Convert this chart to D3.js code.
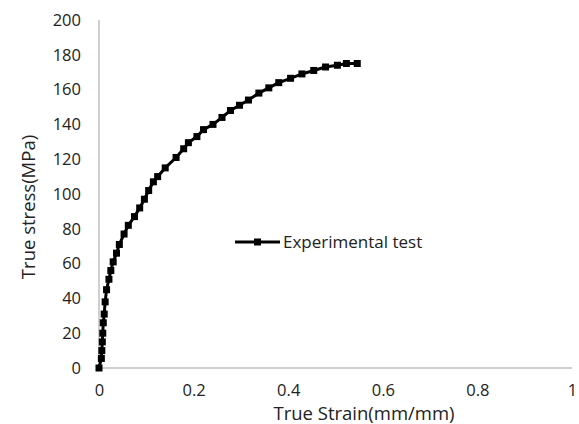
<!DOCTYPE html>
<html>
<head>
<meta charset="utf-8">
<script src="https://cdn.jsdelivr.net/npm/d3@7"></script>
<style>
  html, body { margin: 0; padding: 0; background: #fff; }
  svg { display: block; font-family: "Open Sans", "Noto Sans", sans-serif; }
</style>
</head>
<body>
<svg id="chart" width="579" height="424"></svg>
<script>
// True stress–strain curve, experimental tensile test
const strain = [0, 0.005, 0.006, 0.007, 0.008, 0.009, 0.011, 0.013, 0.016, 0.021, 0.025, 0.030,
  0.037, 0.043, 0.053, 0.062, 0.075, 0.086, 0.096, 0.105, 0.115, 0.124, 0.140, 0.163, 0.179,
  0.189, 0.207, 0.221, 0.241, 0.260, 0.278, 0.297, 0.316, 0.338, 0.359, 0.380, 0.405, 0.429,
  0.454, 0.479, 0.504, 0.523, 0.546];
const stress = [0, 5.5, 10, 15, 20, 26, 31, 38, 45, 51, 56, 61,
  66, 71, 77, 82, 87, 92, 97, 102, 107, 110, 115, 121, 126,
  129.5, 133, 137, 140, 144, 148, 151, 154, 158, 161, 164, 166.5, 169,
  171, 173, 174, 175, 175];
const xTicks = [0, 0.2, 0.4, 0.6, 0.8, 1];
const yTicks = [0, 20, 40, 60, 80, 100, 120, 140, 160, 180, 200];
const seriesName = "Experimental test";
const xTitle = "True Strain(mm/mm)";
const yTitle = "True stress(MPa)";

const svg = d3.select("#chart");
const x = d3.scaleLinear().domain([0, 1]).range([99, 572]);
const y = d3.scaleLinear().domain([0, 200]).range([368, 20]);

const axisColor = "#bfbfbf";
const textColor = "#222";

// Axis lines
svg.append("line").attr("x1", x(0)).attr("x2", x(1)).attr("y1", y(0)).attr("y2", y(0))
  .attr("stroke", axisColor).attr("stroke-width", 1.5);
svg.append("line").attr("x1", x(0)).attr("x2", x(0)).attr("y1", y(0)).attr("y2", y(200))
  .attr("stroke", axisColor).attr("stroke-width", 1.5);

// Tick labels
const xAxis = d3.axisBottom(x).tickValues(xTicks).tickSize(0).tickPadding(16)
  .tickFormat(d => String(d));
const gx = svg.append("g").attr("transform", `translate(0,${y(0)})`).call(xAxis);
gx.select(".domain").remove();
gx.selectAll("text").attr("font-size", 16.5).attr("fill", textColor)
  .attr("font-family", "\"Open Sans\", sans-serif");

const yAxis = d3.axisLeft(y).tickValues(yTicks).tickSize(0).tickPadding(18)
  .tickFormat(d => String(d));
const gy = svg.append("g").attr("transform", `translate(${x(0)},0)`).call(yAxis);
gy.select(".domain").remove();
gy.selectAll("text").attr("font-size", 16.5).attr("fill", textColor)
  .attr("font-family", "\"Open Sans\", sans-serif");

// Axis titles
svg.append("text").attr("x", 364).attr("y", 420).attr("text-anchor", "middle")
  .attr("font-size", 18.5).attr("fill", textColor).text(xTitle);
svg.append("text").attr("transform", "translate(35,207) rotate(-90)")
  .attr("text-anchor", "middle").attr("font-size", 18.5).attr("fill", textColor).text(yTitle);

// Curve
const pts = strain.map((s, i) => [s, stress[i]]);
svg.append("path").datum(pts)
  .attr("d", d3.line().x(d => x(d[0])).y(d => y(d[1])))
  .attr("fill", "none").attr("stroke", "#000").attr("stroke-width", 3)
  .attr("stroke-linejoin", "round");

const ms = 7;
svg.append("g").selectAll("rect").data(pts).join("rect")
  .attr("x", d => x(d[0]) - ms / 2).attr("y", d => y(d[1]) - ms / 2)
  .attr("width", ms).attr("height", ms).attr("fill", "#000");

// Legend
const lg = svg.append("g").attr("transform", "translate(235,242)");
lg.append("line").attr("x1", 0).attr("x2", 45).attr("y1", 0).attr("y2", 0)
  .attr("stroke", "#000").attr("stroke-width", 3);
lg.append("rect").attr("x", 22.5 - ms / 2).attr("y", -ms / 2).attr("width", ms).attr("height", ms)
  .attr("fill", "#000");
lg.append("text").attr("x", 48).attr("y", 6).attr("font-size", 17).attr("fill", textColor)
  .text(seriesName);
</script>
</body>
</html>
